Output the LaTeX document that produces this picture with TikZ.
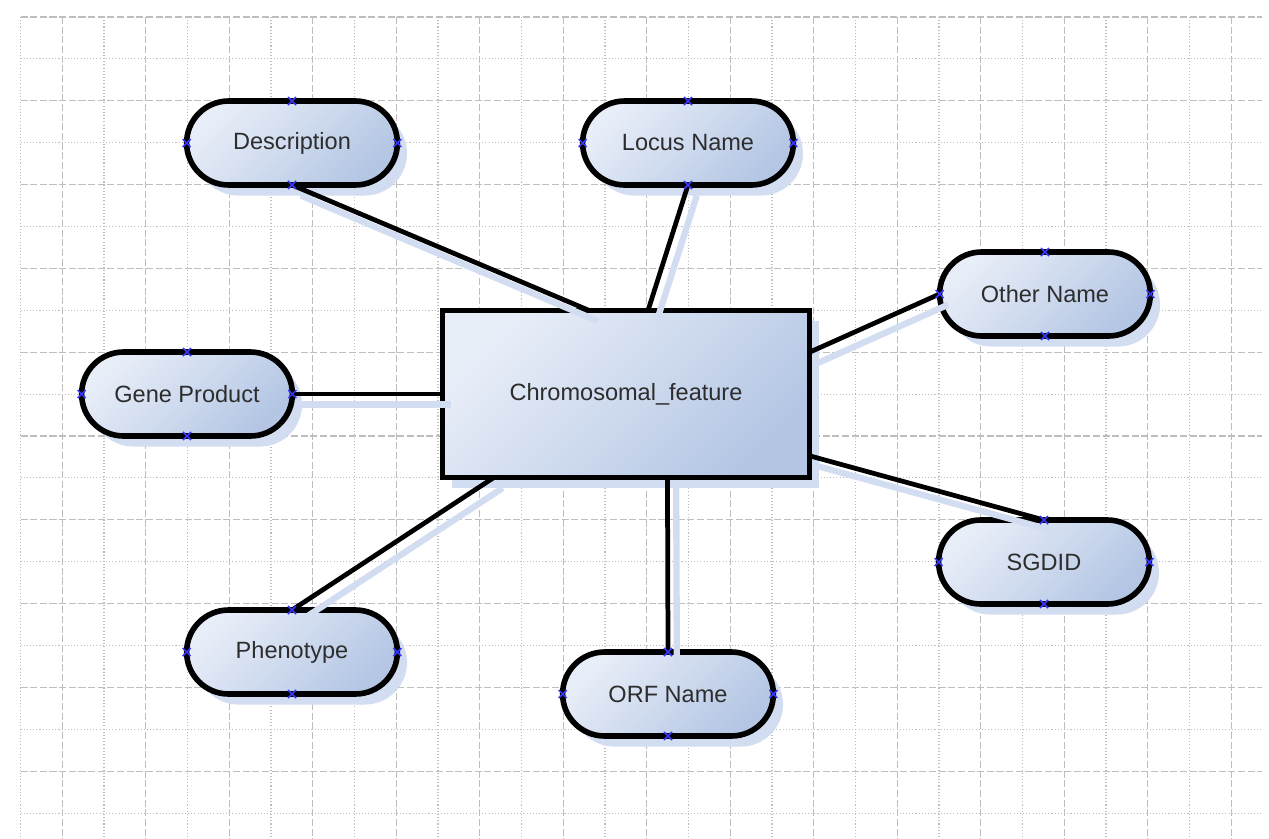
\documentclass[tikz,border=0pt]{standalone}
\usepackage{fontspec}
\setmainfont{Liberation Sans}
\usetikzlibrary{shapes.misc,shadows,calc}

\definecolor{gridc}{RGB}{190,190,190}
\definecolor{fillL}{RGB}{232,238,248}
\definecolor{fillD}{RGB}{180,198,228}
\definecolor{shadowc}{RGB}{210,221,241}
\definecolor{textc}{RGB}{45,45,45}
\definecolor{crossc}{RGB}{55,55,255}

\tikzset{
  entity/.style={draw, line width=3.2pt, outer sep=0pt, left color=fillL, right color=fillD, shading angle=45,
    minimum width=7.34cm, minimum height=3.34cm, text=textc,
    font=\fontsize{13.4}{16}\selectfont,
    drop shadow={shadow xshift=5.5pt, shadow yshift=-6pt, fill=shadowc, opacity=1}},
  attr/.style={entity, rounded rectangle, minimum width=4.45cm, minimum height=1.68cm},
  link/.style={line width=2.7pt,
    preaction={draw=shadowc, line width=3.6pt, transform canvas={xshift=5pt, yshift=-6pt}}},
  anchorx/.style={crossc, line width=0.9pt}
}

\begin{document}
\begin{tikzpicture}[x=0.02cm,y=-0.02cm]
  \useasboundingbox (0,0) rectangle (1269,839);

  % grid
  \foreach \i in {0,...,29}{
    \pgfmathsetmacro\gx{20.5+41.75*\i}
    \ifodd\i
      \draw[gridc, line width=0.6pt, dash pattern=on 4pt off 1.5pt] (\gx,17) -- (\gx,839);
    \else
      \draw[gridc, line width=0.6pt, dash pattern=on 0.6pt off 1.2pt] (\gx,17) -- (\gx,839);
    \fi
  }
  \foreach \j in {0,...,19}{
    \pgfmathsetmacro\gy{17+41.9*\j}
    \ifodd\j
      \draw[gridc, line width=0.6pt, dash pattern=on 0.6pt off 1.2pt] (20.5,\gy) -- (1262,\gy);
    \else
      \draw[gridc, line width=0.6pt, dash pattern=on 4pt off 1.5pt] (20.5,\gy) -- (1262,\gy);
    \fi
  }

  % entity
  \node[entity] (feat) at (626,394) {Chromosomal\_feature};

  % attributes
  \node[attr] (desc) at (292,143) {Description};
  \node[attr] (locus) at (688,143) {Locus Name};
  \node[attr] (other) at (1045,294) {Other Name};
  \node[attr] (gene) at (187,394) {Gene Product};
  \node[attr] (sgdid) at (1044,562) {SGDID};
  \node[attr] (pheno) at (292,652) {Phenotype};
  \node[attr] (orf) at (668,694) {ORF Name};

  % links
  \draw[link] (desc.south) -- ($(feat.north west)!0.40!(feat.north east)$);
  \draw[link] (locus.south) -- ($(feat.north west)!0.56!(feat.north east)$);
  \draw[link] (other.west) -- ($(feat.north east)!0.25!(feat.south east)$);
  \draw[link] (gene.east) -- (feat.west);
  \draw[link] (sgdid.north) -- ($(feat.north east)!0.87!(feat.south east)$);
  \draw[link] (pheno.north) -- ($(feat.south west)!0.14!(feat.south east)$);
  \draw[link] (orf.north) -- ($(feat.south west)!0.613!(feat.south east)$);

  % connection points
  \foreach \n in {desc,locus,other,gene,sgdid,pheno,orf}
    \foreach \a in {north,south,east,west}
      \draw[anchorx] (\n.\a) +(-4,-4) -- +(4,4) +(-4,4) -- +(4,-4);
\end{tikzpicture}
\end{document}
